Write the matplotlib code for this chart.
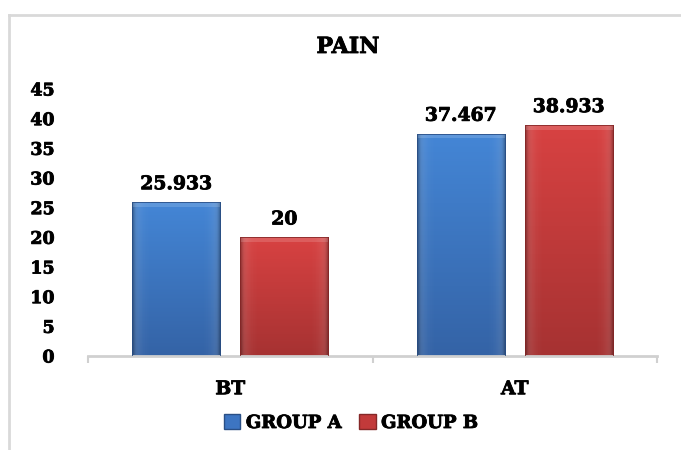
import numpy as np
import matplotlib.pyplot as plt
import matplotlib.patheffects as pe
from matplotlib.lines import Line2D
from matplotlib.patches import Rectangle, Patch
from matplotlib.colors import LinearSegmentedColormap

categories = ['BT', 'AT']
group_a = [25.933, 37.467]
group_b = [20, 38.933]
series_names = ['GROUP A', 'GROUP B']
y_ticks = [0, 5, 10, 15, 20, 25, 30, 35, 40, 45]

plt.rcParams['font.family'] = 'DejaVu Serif'
plt.rcParams['font.weight'] = 'bold'
heavy = [pe.withStroke(linewidth=0.6, foreground='black')]

fig = plt.figure(figsize=(6.81, 4.5), dpi=100)
ax = fig.add_axes([88 / 681, 1 - 356 / 450, (657 - 88) / 681, (356 - 89) / 450])

# light frame, only top and left visible in the screenshot
fig.lines.append(Line2D([9 / 681, 1.0], [1 - 15 / 450, 1 - 15 / 450], transform=fig.transFigure,
                        color='#d9d9d9', linewidth=2))
fig.lines.append(Line2D([9 / 681, 9 / 681], [1 - 15 / 450, 0], transform=fig.transFigure,
                        color='#d9d9d9', linewidth=2))

# gradient colour maps (bottom dark -> top light)
blue = LinearSegmentedColormap.from_list('b', ['#3463a6', '#4486d6'])
red = LinearSegmentedColormap.from_list('r', ['#a63232', '#d84242'])

x = np.arange(len(categories))
w = 0.31
off = 0.19
grad = np.linspace(0, 1, 256).reshape(-1, 1)
side = np.abs(np.linspace(-1, 1, 64)).reshape(1, -1) ** 8

for vals, cmap, edge, shift in [(group_a, blue, '#2a4f85', -off), (group_b, red, '#852828', off)]:
    bars = ax.bar(x + shift, vals, w, color='none', edgecolor=edge, linewidth=0.6, zorder=3)
    for b in bars:
        x0, y0 = b.get_x(), b.get_y()
        bw, bh = b.get_width(), b.get_height()
        im = ax.imshow(grad, extent=[x0, x0 + bw, y0, y0 + bh], origin='lower',
                       cmap=cmap, aspect='auto', zorder=2)
        im.set_clip_path(b)
        # darker sides
        sh = ax.imshow(side, extent=[x0, x0 + bw, y0, y0 + bh], cmap='Greys', vmin=0, vmax=1,
                       alpha=side * 0.35, aspect='auto', zorder=2.2)
        sh.set_clip_path(b)
        # bevel on the top edge
        ax.add_patch(Rectangle((x0, y0 + bh - 0.8), bw, 0.8, facecolor='white',
                               alpha=0.15, linewidth=0, zorder=2.5))
        ax.text(x0 + bw / 2, y0 + bh + 1.5, f'{b.get_height():g}', ha='center', va='bottom',
                fontsize=13.5, fontweight='bold', color='black', path_effects=heavy)

ax.set_xlim(-0.5, 1.5)
ax.set_ylim(0, 45)
ax.set_yticks(y_ticks)
ax.set_xticks([-0.5, 0.5, 1.5])
ax.set_xticklabels([])
ax.tick_params(axis='x', length=5, width=1.5, color='#d0d0d0')
ax.tick_params(axis='y', length=0, pad=24, labelsize=12.5)
for t in ax.get_yticklabels():
    t.set_fontweight('bold')
    t.set_path_effects(heavy)
for i, c in enumerate(categories):
    ax.text(i, -5.6, c, ha='center', va='center', fontsize=13.5, fontweight='bold',
            color='black', path_effects=heavy)

for s in ['top', 'right', 'left']:
    ax.spines[s].set_visible(False)
ax.spines['bottom'].set_color('#d0d0d0')
ax.spines['bottom'].set_linewidth(2)

fig.text(348 / 681, 1 - 47 / 450, 'PAIN', ha='center', va='center', fontsize=16,
         fontweight='bold', color='black', path_effects=heavy)

handles = [Patch(facecolor='#3d75c2', edgecolor='#2a4f85'),
           Patch(facecolor='#c23a3a', edgecolor='#852828')]
leg = fig.legend(handles, series_names, loc='center', bbox_to_anchor=(351 / 681, 1 - 423 / 450),
                 ncol=2, frameon=False, handlelength=0.9, handleheight=0.9, handletextpad=0.3,
                 columnspacing=1.0, prop={'weight': 'bold', 'size': 13})
for t in leg.get_texts():
    t.set_path_effects(heavy)

fig.savefig('out.png', dpi=100)
